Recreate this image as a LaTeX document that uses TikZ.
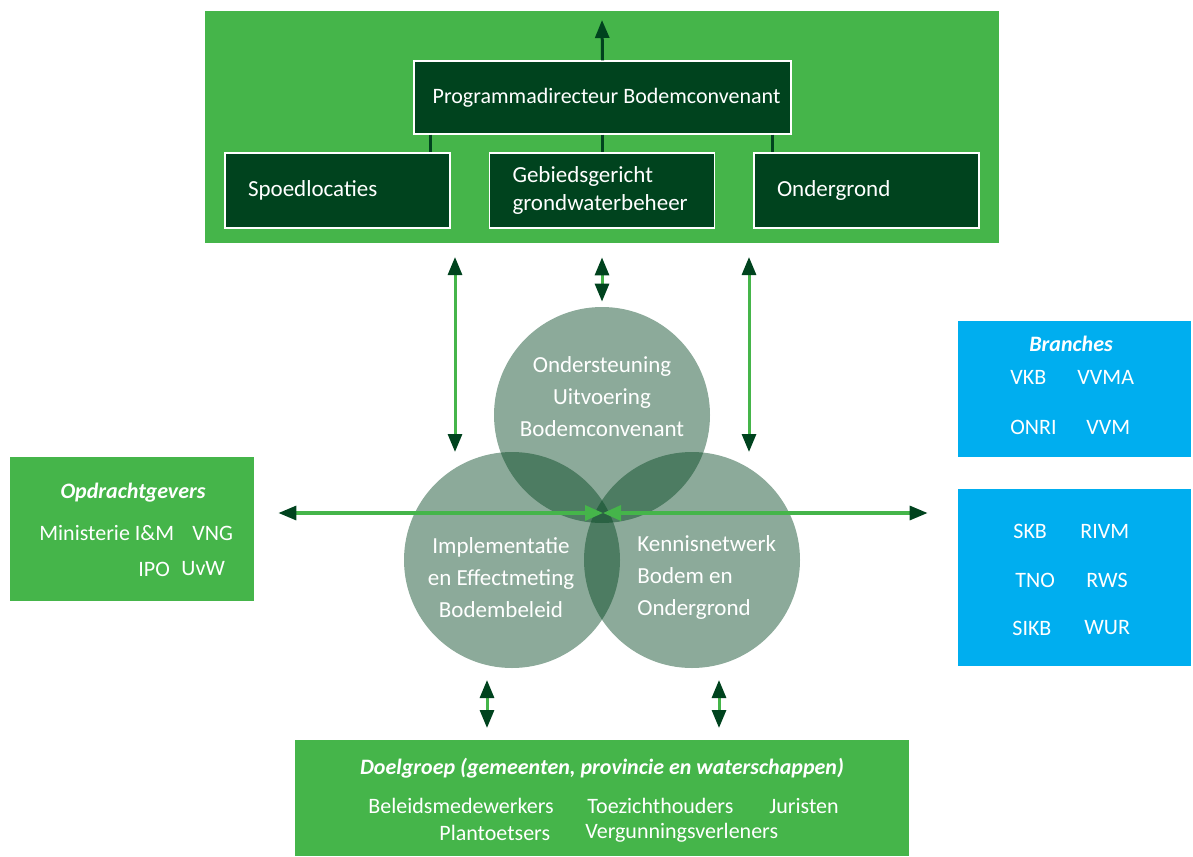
\documentclass[tikz,border=0pt]{standalone}
\usepackage{fontspec}
\setmainfont{Carlito}
\usetikzlibrary{arrows.meta}

\definecolor{bcgreen}{RGB}{69,181,74}
\definecolor{bcdark}{RGB}{0,67,30}
\definecolor{bcblue}{RGB}{0,174,239}

\tikzset{
  greenbox/.style={fill=bcgreen, inner sep=0pt},
  bluebox/.style={fill=bcblue, inner sep=0pt},
  darkbox/.style={draw=white, line width=0.6pt, fill=bcdark, text=white, minimum height=37.5pt,
    inner xsep=11.5pt, font=\fontsize{11.5}{14}\selectfont},
  circ/.style={circle, fill=bcdark, fill opacity=0.45, minimum size=108pt, inner sep=0pt},
  lbl/.style={text=white, inner sep=0pt, font=\fontsize{11}{14}\selectfont},
  head/.style={text=white, inner sep=0pt, font=\fontsize{11}{14}\selectfont\bfseries\itshape},
  conn/.style={bcdark, line width=1.5pt},
  tip/.style={arrows={-Triangle[length=9pt,width=7pt]}},
  twoway/.style={bcgreen, line width=1.5pt,
    arrows={Triangle[length=9pt,width=7pt,color=bcdark]-Triangle[length=9pt,width=7pt,color=bcdark]}},
  midway/.style={bcgreen, line width=1.6pt,
    arrows={Triangle[length=9pt,width=7.5pt]-Triangle[length=9pt,width=7pt,color=bcdark]}},
}

\begin{document}
\begin{tikzpicture}[x=0.5pt,y=-0.5pt]
  \useasboundingbox (0,0) rectangle (1193,856);

  % programma
  \node[greenbox, minimum width=397pt, minimum height=116pt] (prog) at (602,127) {};
  \node[darkbox, minimum width=188.5pt, minimum height=36.5pt, inner xsep=4pt,
    font=\fontsize{11}{14}\selectfont] (dir) at (602.5,97.5)
    {\hspace*{4pt}Programmadirecteur Bodemconvenant};
  \node[darkbox, text width=89.5pt, align=left] (spoed) at (337.5,190.5) {Spoedlocaties};
  \node[darkbox, text width=89.5pt, align=left] (geb) at (602,190.5) {Gebiedsgericht\\grondwaterbeheer};
  \node[darkbox, text width=89.5pt, align=left] (onder) at (866.5,190.5) {Ondergrond};

  \coordinate (up) at (602,20);
  \coordinate (k1) at ([xshift=8.5pt]dir.south west);
  \coordinate (k3) at ([xshift=-9.5pt]dir.south east);
  \draw[conn, tip] (dir.north) -- (up);
  \draw[conn] (k1) -- (k1 |- spoed.north);
  \draw[conn] (dir.south) -- (dir.south |- geb.north);
  \draw[conn] (k3) -- (k3 |- onder.north);

  % zijkanten
  \node[greenbox, minimum width=122pt, minimum height=72pt] (opd) at (132,529) {};
  \node[head] (opdkop) at (133,493) {Opdrachtgevers};
  \node[lbl, anchor=west] (min) at (39,533) {Ministerie I\&M};
  \node[lbl, anchor=west] (vng) at (192,533) {VNG};
  \node[lbl, anchor=west] (ipo) at (138,569) {IPO};
  \node[lbl, anchor=west] (uvw) at (181,569) {UvW};

  \node[bluebox, minimum width=116.5pt, minimum height=68pt] (bra) at (1074.5,389) {};
  \node[head] (brakop) at (1071,344) {Branches};
  \node[lbl, anchor=west] (vkb) at (1010,377) {VKB};
  \node[lbl, anchor=west] (vvma) at (1077,377) {VVMA};
  \node[lbl, anchor=west] (onri) at (1010,427) {ONRI};
  \node[lbl, anchor=west] (vvm) at (1086,427) {VVM};

  \node[bluebox, minimum width=116.5pt, minimum height=88.5pt] (ins) at (1074.5,577.5) {};
  \node[lbl, anchor=west] (skb) at (1013,531) {SKB};
  \node[lbl, anchor=west] (rivm) at (1080,531) {RIVM};
  \node[lbl, anchor=west] (tno) at (1015,580) {TNO};
  \node[lbl, anchor=west] (rws) at (1086,580) {RWS};
  \node[lbl, anchor=west] (sikb) at (1012,628) {SIKB};
  \node[lbl, anchor=west] (wur) at (1084,628) {WUR};

  % doelgroep
  \node[greenbox, minimum width=307pt, minimum height=58pt] (doel) at (602,798) {};
  \node[head] (doelkop) at (602,768) {Doelgroep (gemeenten, provincie en waterschappen)};
  \node[lbl, anchor=west] (bel) at (368,806) {Beleidsmedewerkers};
  \node[lbl, anchor=west] (toe) at (587,806) {Toezichthouders};
  \node[lbl, anchor=west] (jur) at (769,806) {Juristen};
  \node[lbl, anchor=west] (pla) at (439,833) {Plantoetsers};
  \node[lbl, anchor=west] (ver) at (585,833) {Vergunningsverleners};

  % cirkels
  \node[circ] (cT) at (602,415) {};
  \node[circ] (cL) at (512,560) {};
  \node[circ] (cR) at (692,560) {};
  \node[lbl, align=center, font=\fontsize{11.5}{16}\selectfont] (tT) at (602,397)
    {Ondersteuning\\Uitvoering\\Bodemconvenant};
  \node[lbl, align=center, font=\fontsize{11.5}{16}\selectfont] (tL) at (501,578)
    {Implementatie\\en Effectmeting\\Bodembeleid};
  \node[lbl, anchor=west, align=left, font=\fontsize{11.5}{16}\selectfont] (tR) at (637,577)
    {Kennisnetwerk\\Bodem en\\Ondergrond};

  % pijlen
  \coordinate (mid) at (603,513);
  \coordinate (pl) at (455,257);
  \coordinate (cl) at (455,452);
  \coordinate (pr) at (749,257);
  \coordinate (cr) at (749,452);
  \coordinate (bl) at (487,680);
  \coordinate (dl) at (487,728);
  \coordinate (br) at (719,680);
  \coordinate (dr) at (719,728);
  \draw[twoway] (pl) -- (cl);
  \draw[twoway] (pr) -- (cr);
  \draw[twoway, shorten <=7pt, shorten >=2.5pt] (prog.south) -- (cT.north);
  \draw[twoway] (bl) -- (dl);
  \draw[twoway] (br) -- (dr);
  \draw[midway, shorten >=12pt] (mid) -- (mid -| opd.east);
  \draw[midway, shorten >=15pt] (mid) -- (mid -| ins.west);
\end{tikzpicture}
\end{document}
